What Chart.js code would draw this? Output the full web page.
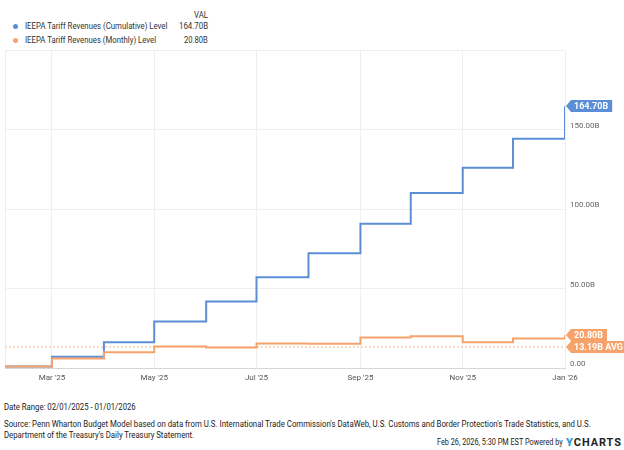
<!DOCTYPE html>
<html lang="en">
<head>
  <meta charset="UTF-8" />
  <title>IEEPA Tariff Revenues</title>
  <script src="https://cdn.jsdelivr.net/npm/chart.js"></script>
  <style>
    body { margin: 0; width: 624px; height: 450px; background: #fff; font-family: Roboto, Arial, sans-serif; position: relative; overflow: hidden; }
    #wrap { position: absolute; left: 0; top: 0; width: 624px; height: 390px; }
    .t { position: absolute; white-space: nowrap; line-height: 12px; height: 12px; }
    .t span { display: inline-block; }
    .l span { transform-origin: left center; }
    .r span { transform-origin: right center; }
    .lg { font-size: 9.5px; color: #333; }
    .ft { font-size: 9.5px; color: #222; }
    .dot { position: absolute; width: 5px; height: 5px; border-radius: 50%; }
    .logo { font-weight: bold; font-size: 11.5px; letter-spacing: 1px; color: #222; }
    .logo b { color: #2b9bd6; }
  </style>
</head>
<body>

<!-- legend -->
<div class="t r lg" style="right:416px; top:9px;"><span data-w="14">VAL</span></div>
<div class="dot" style="left:12.5px; top:23.5px; background:#5b8ed6;"></div>
<div class="t l lg" style="left:25px; top:20px;"><span id="name1" data-w="142"></span></div>
<div class="t r lg" style="right:416px; top:20px;"><span id="val1" data-w="29"></span></div>
<div class="dot" style="left:12.5px; top:37.5px; background:#f7a26b;"></div>
<div class="t l lg" style="left:25px; top:34px;"><span id="name2" data-w="131"></span></div>
<div class="t r lg" style="right:416px; top:34px;"><span id="val2" data-w="24"></span></div>

<div id="wrap"><canvas id="chart" width="624" height="390"></canvas></div>

<!-- footer -->
<div class="t l ft" style="left:4px; top:401px;"><span data-w="132">Date Range: 02/01/2025 - 01/01/2026</span></div>
<div class="t l ft" style="left:4px; top:418px;"><span data-w="587">Source: Penn Wharton Budget Model based on data from U.S. International Trade Commission's DataWeb, U.S. Customs and Border Protection's Trade Statistics, and U.S.</span></div>
<div class="t l ft" style="left:4px; top:429px;"><span data-w="190">Department of the Treasury's Daily Treasury Statement.</span></div>
<div class="t r ft" style="right:61px; top:436px;"><span data-w="126">Feb 26, 2026, 5:30 PM EST Powered by</span></div>
<div class="t r logo" style="right:2px; top:436px;"><span data-w="56"><b>Y</b>CHARTS</span></div>

<script>
// monthly observations, 02/01/2025 - 01/01/2026 (billions of USD)
const dates = ["2025-02-01", "2025-03-01", "2025-04-01", "2025-05-01", "2025-06-01", "2025-07-01",
               "2025-08-01", "2025-09-01", "2025-10-01", "2025-11-01", "2025-12-01", "2026-01-01"];
const cumulative = [1.0, 7.0, 16.2, 29.2, 41.8, 57.0, 72.1, 90.7, 110.1, 126.0, 144.2, 164.7];
const monthly = [1.0, 6.0, 9.9, 13.6, 12.9, 15.4, 15.2, 19.2, 19.9, 16.2, 18.5, 20.8];
const monthlyAvg = 13.19;

const seriesNames = ["IEEPA Tariff Revenues (Cumulative) Level", "IEEPA Tariff Revenues (Monthly) Level"];
const xTickDates = ["2025-02-01", "2025-03-01", "2025-05-01", "2025-07-01", "2025-09-01", "2025-11-01", "2026-01-01"];
const xTickLabels = ["", "Mar '25", "May '25", "Jul '25", "Sep '25", "Nov '25", "Jan '26"];
const yTicks = [0, 50, 100, 150, 200];
const yTickLabels = ["0.00", "50.00B", "100.00B", "150.00B", ""];

const BLUE = "#5b8ed6", ORANGE = "#f7a26b";

function dayNum(s) {
  const p = s.split("-").map(Number);
  return (Date.UTC(p[0], p[1] - 1, p[2]) - Date.UTC(2025, 1, 1)) / 864e5;
}
const xs = dates.map(dayNum);
const fmt = v => v.toFixed(2) + "B";

document.getElementById("name1").textContent = seriesNames[0];
document.getElementById("name2").textContent = seriesNames[1];
document.getElementById("val1").textContent = fmt(cumulative[cumulative.length - 1]);
document.getElementById("val2").textContent = fmt(monthly[monthly.length - 1]);

// squeeze text to the narrow look of the original
document.querySelectorAll("span[data-w]").forEach(el => {
  const w = el.offsetWidth;
  if (w) el.style.transform = "scaleX(" + (+el.dataset.w / w) + ")";
});

const tags = [
  { value: cumulative[cumulative.length - 1], text: fmt(cumulative[cumulative.length - 1]), color: BLUE },
  { value: monthly[monthly.length - 1], text: fmt(monthly[monthly.length - 1]), color: ORANGE },
  { value: monthlyAvg, text: fmt(monthlyAvg) + " AVG", color: ORANGE }
];

const endTags = {
  id: "endTags",
  afterDatasetsDraw(chart) {
    const { ctx, chartArea, scales } = chart;
    ctx.save();
    ctx.font = "bold 9px Roboto";
    ctx.textBaseline = "middle";
    tags.forEach(t => {
      const y = Math.round(scales.y.getPixelForValue(t.value));
      const x0 = chartArea.right + 1;
      const w = ctx.measureText(t.text).width + 7;
      ctx.fillStyle = t.color;
      ctx.beginPath();
      ctx.moveTo(x0, y);
      ctx.lineTo(x0 + 5, y - 6);
      ctx.lineTo(x0 + 5 + w, y - 6);
      ctx.lineTo(x0 + 5 + w, y + 6);
      ctx.lineTo(x0 + 5, y + 6);
      ctx.closePath();
      ctx.fill();
      ctx.fillStyle = "#fff";
      ctx.fillText(t.text, x0 + 8, y + 0.5);
    });
    ctx.restore();
  }
};

Chart.defaults.font.family = "Roboto";
Chart.defaults.font.size = 8;

new Chart(document.getElementById("chart"), {
  type: "line",
  data: {
    datasets: [
      { label: seriesNames[1], data: xs.map((x, i) => ({ x, y: monthly[i] })),
        borderColor: ORANGE, borderWidth: 2, stepped: true, pointRadius: 0, order: 0 },
      { label: "avg", data: [{ x: xs[0], y: monthlyAvg }, { x: xs[xs.length - 1], y: monthlyAvg }],
        borderColor: "#f9c4a0", borderWidth: 1.2, borderDash: [2, 2], pointRadius: 0, order: 1 },
      { label: seriesNames[0], data: xs.map((x, i) => ({ x, y: cumulative[i] })),
        borderColor: BLUE, borderWidth: 2, stepped: true, pointRadius: 0, order: 2 }
    ]
  },
  options: {
    responsive: false,
    animation: false,
    layout: { padding: { left: 4, top: 50, right: 0, bottom: 0 } },
    plugins: { legend: { display: false }, tooltip: { enabled: false } },
    scales: {
      x: {
        type: "linear",
        min: xs[0],
        max: xs[xs.length - 1],
        afterBuildTicks: s => { s.ticks = xTickDates.map(d => ({ value: dayNum(d) })); },
        afterFit: s => { s.height = 22; },
        ticks: {
          color: "#555",
          padding: 5,
          maxRotation: 0,
          autoSkip: false,
          callback: (v, i) => xTickLabels[i]
        },
        grid: { color: "#efefef", drawTicks: false },
        border: { display: true, color: "#d6d6d6" }
      },
      y: {
        position: "right",
        min: 0,
        max: 200,
        afterBuildTicks: s => { s.ticks = yTicks.map(v => ({ value: v })); },
        afterFit: s => { s.width = 59; },
        ticks: {
          color: "#666",
          padding: 5,
          labelOffset: -4,
          callback: (v, i) => yTickLabels[i]
        },
        grid: { color: "#efefef", drawTicks: false },
        border: { display: false }
      }
    }
  },
  plugins: [endTags]
});
</script>

</body>
</html>
